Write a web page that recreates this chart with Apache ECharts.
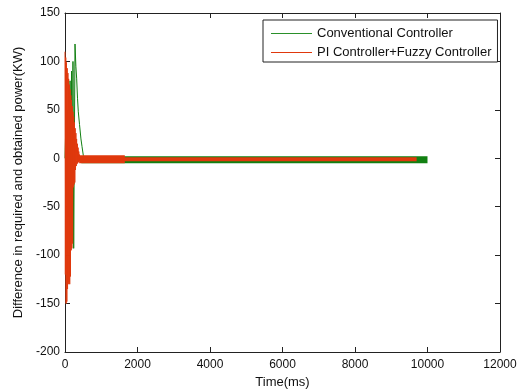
<!DOCTYPE html>
<html>
<head>
<meta charset="utf-8">
<script src="https://cdn.jsdelivr.net/npm/echarts@6/dist/echarts.min.js"></script>
<style>
  html, body { margin: 0; padding: 0; background: #fff; }
  #chart { width: 526px; height: 389px; }
</style>
</head>
<body>
<div id="chart"></div>
<script>
// 常规控制器 - 起始振荡段 (ms, KW)
const convTime = [0, 20, 40, 60, 80, 100, 120, 140, 160, 180, 200, 220, 240, 276, 300, 322, 345, 367, 400, 440, 470, 505, 540]
const convValue = [0, 30, -40, 50, -60, 70, -70, 80, -80, 90, -85, 100, -93, 118, 95, 82, 62, 48, 35, 20, 12, 3, 0]

// 常规控制器 - 稳态段
const convBandTime = [450, 1000, 2000, 3000, 4000, 5000, 6000, 7000, 8000, 9000, 10000]
const convBandValue = [-1.5, -1.5, -1.5, -1.5, -1.5, -1.5, -1.5, -1.5, -1.5, -1.5, -1.5]

// PI+模糊控制器 - 起始振荡段
const fuzzyTime = [0, 10, 20, 30, 40, 50, 60, 70, 80, 90, 100, 110, 120, 130, 140, 150, 160, 170, 180, 190,
  200, 210, 220, 230, 240, 250, 260, 270, 280, 290, 300, 310, 320, 330, 340, 350, 360, 370, 380, 390, 400]
const fuzzyValue = [110, -120, 104, -150, 99, -148, 93, -135, 88, -130, 82, -128, 76, -130, 71, -122, 65, -95, 60, -93,
  54, -88, 48, -30, 43, -27, 37, -25, 31, -12, 26, -8, 20, -6, 15, -5, 11, -4, 7, -3, 4]

// PI+模糊控制器 - 稳态段（前段较粗）
const fuzzyEarlyTime = [390, 800, 1200, 1650]
const fuzzyEarlyValue = [-1, -1, -1, -1]
const fuzzyBandTime = [390, 1000, 2000, 3000, 4000, 5000, 6000, 7000, 8000, 9000, 9700]
const fuzzyBandValue = [-1, -1, -1, -1, -1, -1, -1, -1, -1, -1, -1]

// 坐标轴
const xMin = 0, xMax = 12000, xStep = 2000
const yMin = -200, yMax = 150, yStep = 50

const CONV = 'Conventional Controller'
const FUZZY = 'PI Controller+Fuzzy Controller'
const GREEN = '#128012'
const RED = '#e0380c'
const FONT = 'Liberation Sans, Arial, sans-serif'

const zip = (xs, ys) => xs.map((x, i) => [x, ys[i]])

const chart = echarts.init(document.getElementById('chart'))

const tickStyle = { show: true, inside: true, length: 5, lineStyle: { color: '#222' } }
const lineAxis = { show: true, onZero: false, lineStyle: { color: '#222', width: 1 } }
const labelStyle = { color: '#111', fontSize: 12, fontFamily: FONT }
const nameStyle = { color: '#111', fontSize: 13, fontFamily: FONT }
const plain = v => String(v)

const lineSeries = (name, data, color, width) => ({
  name,
  type: 'line',
  data,
  symbol: 'none',
  lineStyle: { color, width },
  itemStyle: { color },
  animation: false
})

const option = {
  backgroundColor: '#fff',
  animation: false,
  grid: { left: 65, right: 26, top: 13, bottom: 37, containLabel: false, outerBoundsMode: 'none' },
  legend: {
    data: [
      { name: CONV, icon: 'rect', itemStyle: { color: '#2a902a', borderWidth: 0 } },
      { name: FUZZY, icon: 'rect', itemStyle: { color: RED, borderWidth: 0 } }
    ],
    orient: 'vertical',
    left: 263,
    top: 20,
    padding: [6, 6, 2, 8],
    itemWidth: 41,
    itemHeight: 1,
    itemGap: 4,
    borderColor: '#222',
    borderWidth: 1,
    backgroundColor: '#fff',
    textStyle: { color: '#111', fontSize: 13, fontFamily: FONT, lineHeight: 15 }
  },
  xAxis: [
    {
      type: 'value',
      position: 'bottom',
      min: xMin, max: xMax, interval: xStep,
      name: 'Time(ms)',
      nameLocation: 'middle',
      nameGap: 22,
      nameTextStyle: nameStyle,
      axisLine: lineAxis,
      axisTick: tickStyle,
      axisLabel: Object.assign({ margin: 7, formatter: plain }, labelStyle),
      splitLine: { show: false }
    },
    {
      type: 'value',
      position: 'top',
      min: xMin, max: xMax, interval: xStep,
      axisLine: lineAxis,
      axisTick: tickStyle,
      axisLabel: { show: false },
      splitLine: { show: false }
    }
  ],
  yAxis: [
    {
      type: 'value',
      position: 'left',
      min: yMin, max: yMax, interval: yStep,
      name: 'Difference in required and obtained power(KW)',
      nameLocation: 'middle',
      nameGap: 34,
      nameRotate: 90,
      nameTextStyle: nameStyle,
      axisLine: lineAxis,
      axisTick: tickStyle,
      axisLabel: Object.assign({ margin: 5, formatter: plain }, labelStyle),
      splitLine: { show: false }
    },
    {
      type: 'value',
      position: 'right',
      min: yMin, max: yMax, interval: yStep,
      axisLine: lineAxis,
      axisTick: tickStyle,
      axisLabel: { show: false },
      splitLine: { show: false }
    }
  ],
  series: [
    lineSeries(CONV, zip(convTime, convValue), GREEN, 1),
    lineSeries(CONV, zip(convBandTime, convBandValue), GREEN, 7),
    lineSeries(FUZZY, zip(fuzzyTime, fuzzyValue), RED, 1),
    lineSeries(FUZZY, zip(fuzzyEarlyTime, fuzzyEarlyValue), RED, 8),
    lineSeries(FUZZY, zip(fuzzyBandTime, fuzzyBandValue), RED, 4)
  ]
}

chart.setOption(option)
</script>
</body>
</html>
